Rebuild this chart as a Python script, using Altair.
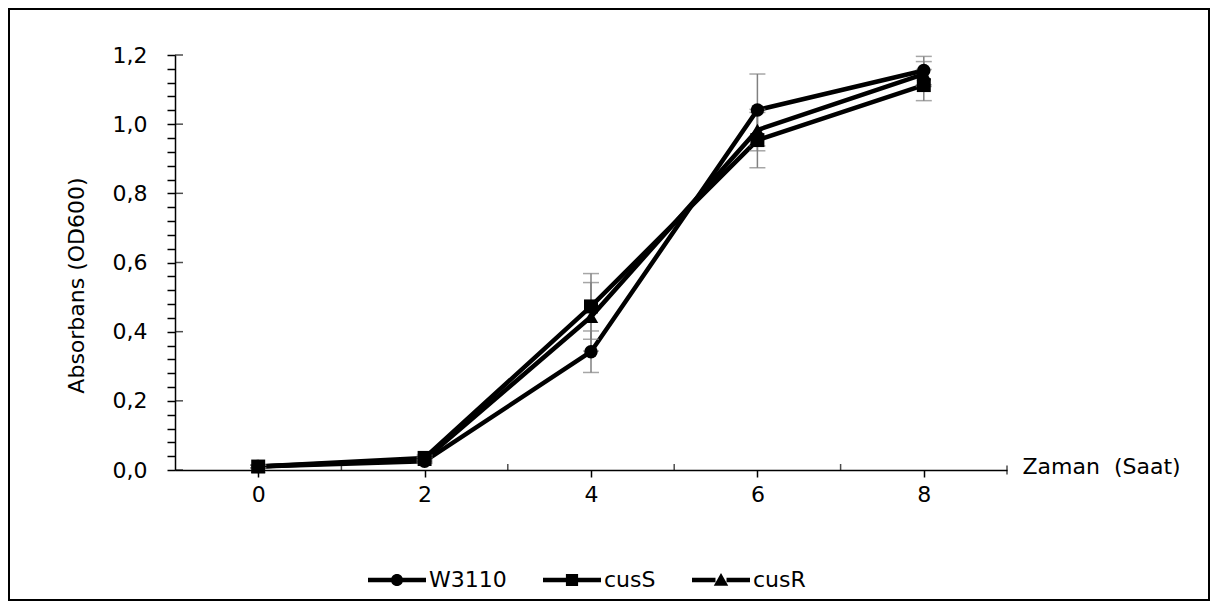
import altair as alt
import pandas as pd

# ---- data ----
hours = [0, 2, 4, 6, 8]
series_names = ["W3110", "cusS", "cusR"]
w3110 = [0.010, 0.025, 0.342, 1.041, 1.155]
cuss = [0.010, 0.035, 0.473, 0.954, 1.113]
cusr = [0.010, 0.030, 0.443, 0.983, 1.145]
err_w3110 = [0.004, 0.006, 0.060, 0.104, 0.041]
err_cuss = [0.004, 0.008, 0.095, 0.080, 0.045]
err_cusr = [0.004, 0.007, 0.099, 0.060, 0.036]

y_major = [0.0, 0.2, 0.4, 0.6, 0.8, 1.0, 1.2]
y_all_ticks = [round(i * 0.04, 2) for i in range(31)]
x_major = [0, 2, 4, 6, 8]
x_minor = [1, 3, 5, 7]
x_end = [9]

rows = []
for name, vals, errs in zip(series_names, [w3110, cuss, cusr], [err_w3110, err_cuss, err_cusr]):
    for h, v, e in zip(hours, vals, errs):
        rows.append({"hour": h, "od": v, "lo": v - e, "hi": v + e, "series": name, "legend": name})
df = pd.DataFrame(rows)

FONT = "DejaVu Sans"
FS = 22
W, H = 832, 415

xs = alt.Scale(domain=[-1, 9], nice=False, zero=False)
ys = alt.Scale(domain=[0, 1.2], nice=False, zero=True)

x_axis = alt.Axis(
    values=x_major, tickSize=7, labelPadding=7, format="d",
    title="Zaman\u00a0 (Saat)", titleX=847, titleY=-4, titleAlign="left",
    titleBaseline="middle", titleAngle=0,
)
y_axis = alt.Axis(
    values=y_all_ticks, tickSize=8, labelPadding=20,
    labelExpr="abs(datum.value*5 - round(datum.value*5)) < 0.001 ? replace(format(datum.value, '.1f'), '.', ',') : ''",
    title="Absorbans (OD600)", titleAngle=270, titleX=-99, titleY=230,
    titleAlign="center", titleBaseline="middle",
)


def X(field):
    return alt.X(field, scale=xs, axis=x_axis, title="Zaman\u00a0 (Saat)")


def Y(field):
    return alt.Y(field, scale=ys, axis=y_axis, title="Absorbans (OD600)")


base = alt.Chart(df)

lines = base.mark_line(color="black", strokeWidth=4.5).encode(
    x=X("hour:Q"), y=Y("od:Q"), detail="series:N"
)

err_rule = base.mark_rule(color="#808080", strokeWidth=1.5).encode(
    x=X("hour:Q"), y=Y("lo:Q"), y2="hi:Q"
)
cap_lo = base.mark_tick(color="#808080", orient="horizontal", size=16, thickness=1.5).encode(
    x=X("hour:Q"), y=Y("lo:Q")
)
cap_hi = base.mark_tick(color="#808080", orient="horizontal", size=16, thickness=1.5).encode(
    x=X("hour:Q"), y=Y("hi:Q")
)

points = base.mark_point(filled=True, color="black", opacity=1).encode(
    x=X("hour:Q"),
    y=Y("od:Q"),
    shape=alt.Shape("series:N", scale=alt.Scale(domain=series_names,
                                                range=["circle", "square", "triangle-up"]), legend=None),
    size=alt.Size("series:N", scale=alt.Scale(domain=series_names, range=[180, 210, 240]), legend=None),
)

# legend symbols: line with marker in the middle (unit square paths)
t = 0.075
m = 0.21
left_line = f"M -1 {-t} L {-m+0.02} {-t} L {-m+0.02} {t} L -1 {t} Z "
right_line = f"M {m-0.02} {-t} L 1 {-t} L 1 {t} L {m-0.02} {t} Z "
circ = f"M {-m} 0 A {m} {m} 0 1 1 {m} 0 A {m} {m} 0 1 1 {-m} 0 Z"
sq = f"M {-m} {-m} L {m} {-m} L {m} {m} L {-m} {m} Z"
tri = f"M 0 {-m-0.03} L {m+0.04} {m-0.01} L {-m-0.04} {m-0.01} Z"
legend_paths = [left_line + right_line + circ, left_line + right_line + sq, left_line + right_line + tri]

legend_layer = base.mark_point(filled=True, color="black", opacity=0).encode(
    x=X("hour:Q"),
    y=Y("od:Q"),
    shape=alt.Shape(
        "legend:N",
        scale=alt.Scale(domain=series_names, range=legend_paths),
        legend=alt.Legend(
            title=None, orient="none", legendX=193, legendY=496, direction="horizontal",
            symbolSize=3364, symbolFillColor="black", symbolStrokeColor="black",
            symbolStrokeWidth=0, symbolOpacity=1, labelFont=FONT, labelFontSize=FS,
            labelColor="black", labelOffset=3, columnPadding=36, padding=0, labelLimit=300,
        ),
    ),
)

# tick decorations through the scales
ymaj_df = pd.DataFrame({"v": y_major})
y_right_ticks = alt.Chart(ymaj_df).mark_tick(color="black", orient="horizontal", size=8, thickness=1.5).encode(
    y=Y("v:Q"), x=alt.value(4)
)
xmin_df = pd.DataFrame({"v": x_minor})
x_up_ticks = alt.Chart(xmin_df).mark_tick(color="black", orient="vertical", size=6, thickness=1.5).encode(
    x=X("v:Q"), y=alt.value(H - 3)
)
xend_df = pd.DataFrame({"v": x_end})
x_end_tick = alt.Chart(xend_df).mark_tick(color="black", orient="vertical", size=9, thickness=1.5).encode(
    x=X("v:Q"), y=alt.value(H)
)

border = alt.Chart(pd.DataFrame({"a": [0]})).mark_rect(
    fillOpacity=0, stroke="black", strokeWidth=2
).encode(x=alt.value(-166), x2=alt.value(1034), y=alt.value(-46), y2=alt.value(545))

chart = alt.layer(
    lines, border, err_rule, cap_lo, cap_hi, points, legend_layer,
    y_right_ticks, x_up_ticks, x_end_tick,
).resolve_scale(shape="independent", size="independent").properties(
    width=W, height=H,
    autosize=alt.AutoSizeParams(type="none"),
    padding={"left": 167, "top": 47, "right": 203, "bottom": 131},
    background="white",
).configure_view(strokeWidth=0).configure_axis(
    grid=False, domainColor="black", domainWidth=1.5, tickColor="black", tickWidth=1.5,
    labelFont=FONT, labelFontSize=FS, labelColor="black", titleFont=FONT, titleFontSize=FS,
    titleColor="black", titleFontWeight="normal", labelFlush=False, labelOverlap=False,
)

chart.save("out.html", embed_options={"renderer": "svg", "actions": False})
